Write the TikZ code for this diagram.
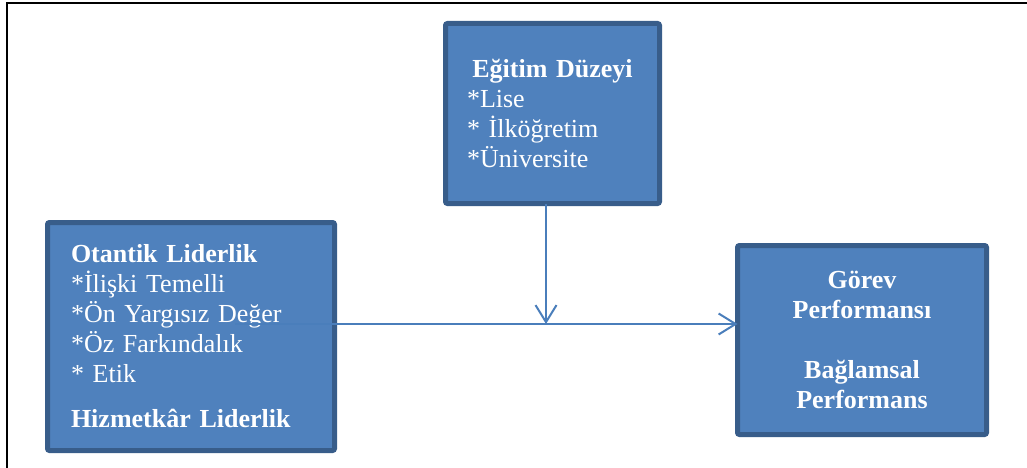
\documentclass[tikz,border=0pt]{standalone}
\usepackage{fontspec}
\setmainfont{Liberation Serif}
\usepackage{xcolor}
\usepackage{tikz}
\usetikzlibrary{arrows.meta, positioning}
\definecolor{boxfill}{HTML}{4F81BD}
\definecolor{boxline}{HTML}{385D8A}
\definecolor{linkline}{HTML}{4A7EBB}
\tikzstyle{block} = [rectangle, rounded corners=2pt, line width=5pt, draw=boxline, fill=boxfill, text=white, outer sep=0pt, font=\fontsize{26}{30}\selectfont]
\tikzstyle{arrow} = [line width=2pt, draw=linkline, -{Straight Barb[length=17pt,width=21pt]}]

\begin{document}
\begin{tikzpicture}[x=1pt, y=1pt]
    \useasboundingbox (0,0) rectangle (1027,467);
    \draw [line width=2pt] (7,-10) |- (1040,463.5);

    \node (egitim) [block, minimum width=214pt, minimum height=180pt, text width=171pt, align=left] at (552.5,353.5) {\makebox[171pt]{\textbf{Eğitim Düzeyi}}\\{}*Lise\\{}* İlköğretim\\{}*Üniversite};
    \node (liderlik) [block, minimum width=287pt, minimum height=228pt, text width=240pt, align=left] at (191,130.5) {\textbf{Otantik Liderlik}\\{}*İlişki Temelli\\{}*Ön Yargısız Değer\\{}*Öz Farkındalık\\{}* Etik\\[15pt]\textbf{Hizmetkâr Liderlik}};
    \node (performans) [block, minimum width=249pt, minimum height=189pt, align=center] at (862,127) {\textbf{Görev}\\\textbf{Performansı}\\[30pt]\textbf{Bağlamsal}\\\textbf{Performans}};
    \coordinate (giris) at (235,143);

    \draw [arrow] (giris) -- (giris -| performans.west);
    \draw [arrow] ([xshift=-6.5pt]egitim.south) -- ([xshift=-6.5pt]egitim.south |- giris);
\end{tikzpicture}
\end{document}
